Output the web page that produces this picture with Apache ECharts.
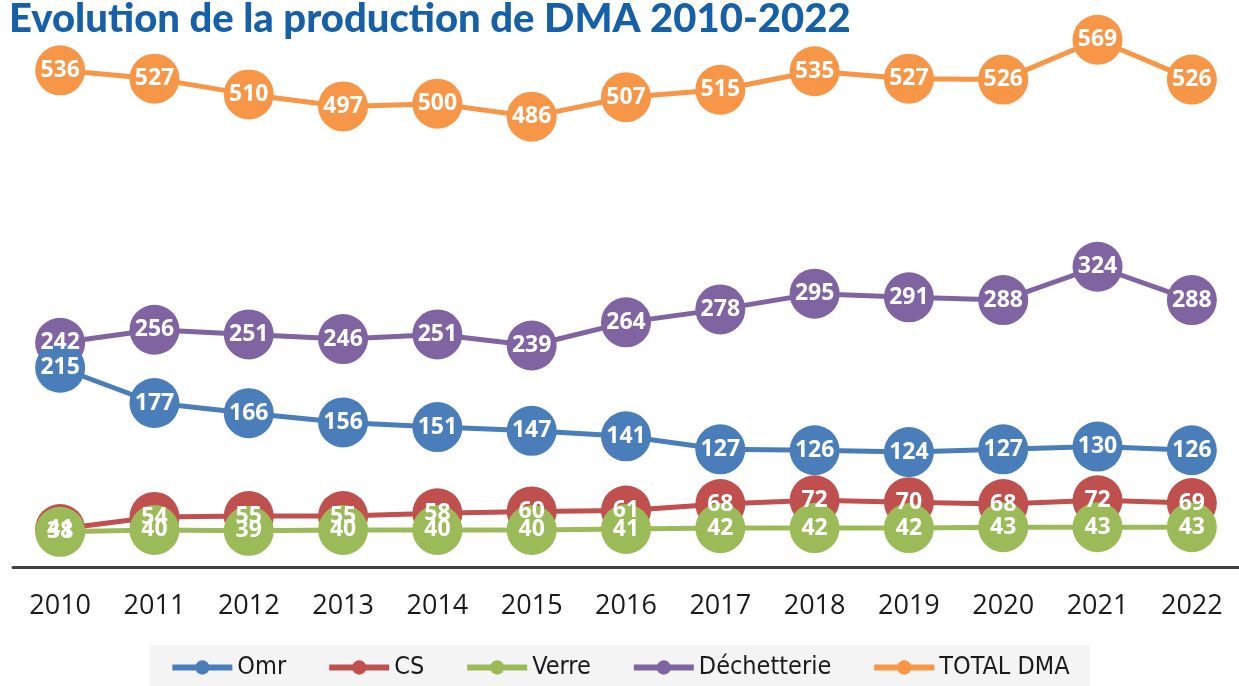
<!DOCTYPE html>
<html>
<head>
<meta charset="utf-8">
<script src="https://cdn.jsdelivr.net/npm/echarts@6/dist/echarts.min.js"></script>
<style>
  html, body { margin: 0; padding: 0; background: #fff; }
  #chart { width: 1239px; height: 686px; }
</style>
</head>
<body>
<div id="chart"></div>
<script>
const years = ['2010', '2011', '2012', '2013', '2014', '2015', '2016', '2017', '2018', '2019', '2020', '2021', '2022'];
const omr = [215, 177, 166, 156, 151, 147, 141, 127, 126, 124, 127, 130, 126];
const cs = [41, 54, 55, 55, 58, 60, 61, 68, 72, 70, 68, 72, 69];
const verre = [38, 40, 39, 40, 40, 40, 41, 42, 42, 42, 43, 43, 43];
const dechetterie = [242, 256, 251, 246, 251, 239, 264, 278, 295, 291, 288, 324, 288];
const totalDma = [536, 527, 510, 497, 500, 486, 507, 515, 535, 527, 526, 569, 526];

const chart = echarts.init(document.getElementById('chart'));

// courbe + gros marqueurs (sans étiquette)
function makeSeries(name, data, color, z) {
  return {
    name: name,
    type: 'line',
    data: data,
    z: z,
    symbol: 'circle',
    symbolSize: 50,
    lineStyle: { width: 5, color: color },
    itemStyle: { color: color },
    label: { show: false },
    emphasis: { disabled: true }
  };
}

// étiquettes seules, dessinées au-dessus de toutes les courbes
function makeLabels(name, data) {
  return {
    name: name,
    type: 'line',
    data: data,
    z: 20,
    symbol: 'circle',
    symbolSize: 1,
    lineStyle: { width: 0, color: 'transparent' },
    itemStyle: { color: 'transparent', borderWidth: 0 },
    label: {
      show: true,
      position: 'inside',
      color: '#fff',
      fontSize: 23,
      fontWeight: 'bold',
      fontFamily: 'Open Sans'
    },
    emphasis: { disabled: true },
    silent: true
  };
}

const options = {
  animation: false,
  title: {
    text: 'Evolution de la production de DMA 2010-2022',
    left: 4,
    top: -6,
    textStyle: {
      color: '#1560a8',
      fontSize: 40,
      fontWeight: 900,
      fontFamily: 'Lato'
    }
  },
  grid: {
    left: 13,
    right: -6,
    top: 11,
    bottom: 119
  },
  xAxis: {
    type: 'category',
    data: years,
    boundaryGap: true,
    axisLine: { lineStyle: { color: '#404040', width: 3 } },
    axisTick: { show: false },
    axisLabel: {
      color: '#1a1a1a',
      fontSize: 27,
      margin: 26,
      fontFamily: 'Open Sans'
    }
  },
  yAxis: {
    type: 'value',
    min: 0,
    max: 600,
    show: false,
    splitLine: { show: false }
  },
  legend: {
    bottom: -8,
    left: 'center',
    backgroundColor: '#f4f4f4',
    padding: [10, 20, 14, 20],
    itemGap: 40,
    itemWidth: 60,
    itemHeight: 18,
    lineStyle: { width: 6 },
    textStyle: {
      fontSize: 25,
      color: '#1a1a1a',
      fontFamily: "'DejaVu Sans Condensed', 'Liberation Sans', sans-serif"
    },
    data: ['Omr', 'CS', 'Verre', 'Déchetterie', 'TOTAL DMA']
  },
  series: [
    makeSeries('Omr', omr, '#4a7ebb', 4),
    makeSeries('CS', cs, '#c0504d', 3),
    makeSeries('Verre', verre, '#9bbb59', 5),
    makeSeries('Déchetterie', dechetterie, '#8064a2', 2),
    makeSeries('TOTAL DMA', totalDma, '#f79646', 2),
    makeLabels('Omr', omr),
    makeLabels('CS', cs),
    makeLabels('Verre', verre),
    makeLabels('Déchetterie', dechetterie),
    makeLabels('TOTAL DMA', totalDma)
  ]
};

chart.setOption(options);
</script>
</body>
</html>
